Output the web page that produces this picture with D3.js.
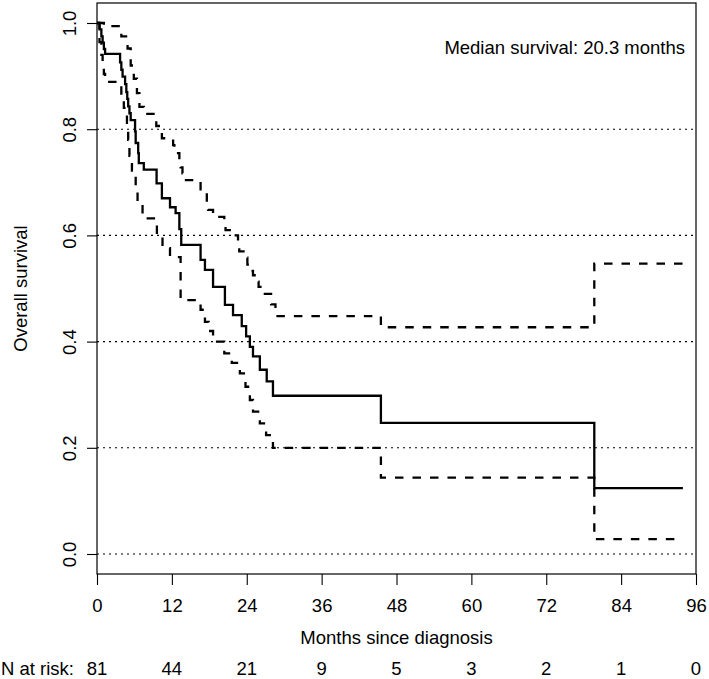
<!DOCTYPE html>
<html>
<head>
<meta charset="utf-8">
<script src="https://cdn.jsdelivr.net/npm/d3@7"></script>
<style>
  html, body { margin: 0; padding: 0; background: #fff; }
  svg text { font-family: "Liberation Sans", Arial, Helvetica, sans-serif; fill: #000; }
</style>
</head>
<body>
<svg id="chart" width="709" height="679"></svg>
<script>
// ---- Data ----
const kmTime = [0, 0.4, 0.7, 0.9, 1.1, 1.3, 3.7, 3.9, 4.1, 4.5, 4.7, 4.85, 5.0, 5.2, 5.4, 6.1, 6.2, 6.6, 6.7, 7.5, 9.55, 10.4, 11.7, 12.6, 13.2, 13.5, 16.6, 17.3, 18.6, 20.5, 21.8, 23.2, 23.9, 24.5, 25.0, 26.1, 27.2, 28.2, 45.5, 79.7, 93.9];
const kmSurv = [1, 0.988, 0.975, 0.963, 0.951, 0.942, 0.926, 0.912, 0.899, 0.885, 0.870, 0.857, 0.843, 0.830, 0.817, 0.796, 0.774, 0.755, 0.736, 0.724, 0.698, 0.670, 0.653, 0.642, 0.612, 0.582, 0.554, 0.535, 0.503, 0.469, 0.450, 0.429, 0.410, 0.390, 0.372, 0.347, 0.325, 0.298, 0.247, 0.124, 0.124];

const upperTime = [0, 1.1, 3.9, 4.9, 5.4, 5.9, 6.4, 6.8, 7.5, 9.5, 10.4, 12.2, 12.4, 13.2, 13.4, 13.7, 13.9, 16.6, 17.6, 17.8, 18.6, 20.4, 20.6, 21.8, 22.6, 22.8, 23.7, 24.1, 24.6, 25.0, 25.7, 25.9, 26.9, 27.9, 28.6, 45.5, 79.7, 93.9];
const upperVal  = [1, 0.994, 0.975, 0.952, 0.920, 0.895, 0.868, 0.842, 0.829, 0.806, 0.783, 0.770, 0.755, 0.740, 0.728, 0.717, 0.704, 0.683, 0.663, 0.648, 0.635, 0.620, 0.610, 0.600, 0.585, 0.570, 0.558, 0.545, 0.533, 0.525, 0.513, 0.503, 0.490, 0.470, 0.448, 0.427, 0.547, 0.547];

const lowerTime = [0, 0.4, 0.7, 0.9, 1.1, 1.3, 3.9, 4.3, 4.8, 5.0, 5.2, 5.6, 6.2, 6.5, 7.3, 9.6, 10.5, 11.7, 13.4, 16.6, 17.3, 17.9, 18.6, 20.4, 21.6, 22.9, 23.8, 24.5, 25.0, 26.1, 27.1, 28.2, 45.5, 79.7, 93.9];
const lowerVal  = [1, 0.964, 0.940, 0.922, 0.904, 0.889, 0.865, 0.840, 0.800, 0.780, 0.750, 0.722, 0.692, 0.662, 0.632, 0.600, 0.576, 0.559, 0.478, 0.460, 0.437, 0.420, 0.400, 0.378, 0.360, 0.340, 0.315, 0.290, 0.268, 0.246, 0.224, 0.200, 0.144, 0.028, 0.028];

const xTicks = [0, 12, 24, 36, 48, 60, 72, 84, 96];
const yTicks = [0.0, 0.2, 0.4, 0.6, 0.8, 1.0];
const gridLevels = [0.0, 0.2, 0.4, 0.6, 0.8];
const atRisk = [81, 44, 21, 9, 5, 3, 2, 1, 0];
const medianText = "Median survival: 20.3 months";

// ---- Layout ----
const svg = d3.select("#chart");
const box = { left: 97, right: 696, top: 3, bottom: 574 };
const x = d3.scaleLinear().domain([0, 96]).range([97, 696]);
const y = d3.scaleLinear().domain([0, 1]).range([554, 23]);
const FS = 18.5;

// grid lines (dotted)
svg.append("g").selectAll("line").data(gridLevels).join("line")
  .attr("x1", box.left).attr("x2", box.right)
  .attr("y1", d => y(d)).attr("y2", d => y(d))
  .attr("stroke", "#000").attr("stroke-width", 1.1)
  .attr("stroke-dasharray", "2,4");

// step curves
const pts = (t, v) => t.map((d, i) => [d, v[i]]);
const line = d3.line().x(d => x(d[0])).y(d => y(d[1])).curve(d3.curveStepAfter);

svg.append("path").datum(pts(upperTime, upperVal)).attr("d", line)
  .attr("fill", "none").attr("stroke", "#000").attr("stroke-width", 2.3)
  .attr("stroke-dasharray", "8.5,9");
svg.append("path").datum(pts(lowerTime, lowerVal)).attr("d", line)
  .attr("fill", "none").attr("stroke", "#000").attr("stroke-width", 2.3)
  .attr("stroke-dasharray", "8.5,9");
svg.append("path").datum(pts(kmTime, kmSurv)).attr("d", line)
  .attr("fill", "none").attr("stroke", "#000").attr("stroke-width", 2.3);

// box
svg.append("rect")
  .attr("x", box.left).attr("y", box.top)
  .attr("width", box.right - box.left).attr("height", box.bottom - box.top)
  .attr("fill", "none").attr("stroke", "#000").attr("stroke-width", 1.2);

// x axis
const xAxis = d3.axisBottom(x).tickValues(xTicks).tickSize(11).tickPadding(14)
  .tickFormat(d3.format("d"));
const gx = svg.append("g").attr("transform", `translate(0,${box.bottom})`).call(xAxis);
gx.select(".domain").remove();
gx.selectAll("line").attr("stroke", "#000").attr("stroke-width", 1.1);
gx.selectAll("text").attr("font-size", FS).attr("font-family", "Liberation Sans, Arial, sans-serif").attr("fill", "#000");

// y axis
const yAxis = d3.axisLeft(y).tickValues(yTicks).tickSize(10).tickPadding(0)
  .tickFormat(d3.format(".1f"));
const gy = svg.append("g").attr("transform", `translate(${box.left},0)`).call(yAxis);
gy.select(".domain").remove();
gy.selectAll("line").attr("stroke", "#000").attr("stroke-width", 1.1);
gy.selectAll("text")
  .attr("font-size", FS).attr("font-family", "Liberation Sans, Arial, sans-serif").attr("fill", "#000")
  .attr("x", null).attr("dy", null)
  .attr("text-anchor", "middle")
  .attr("transform", "translate(-28,0) rotate(-90)")
  .attr("dominant-baseline", "central");

// axis titles
svg.append("text")
  .attr("x", (box.left + box.right) / 2).attr("y", 637)
  .attr("text-anchor", "middle").attr("dominant-baseline", "central")
  .attr("font-size", FS).text("Months since diagnosis");

svg.append("text")
  .attr("transform", `translate(20,${(y(0) + y(1)) / 2}) rotate(-90)`)
  .attr("text-anchor", "middle").attr("dominant-baseline", "central")
  .attr("font-size", FS).text("Overall survival");

// median annotation
svg.append("text")
  .attr("x", 685).attr("y", 47)
  .attr("text-anchor", "end").attr("dominant-baseline", "central")
  .attr("font-size", FS).text(medianText);

// number at risk
svg.append("text")
  .attr("x", 74).attr("y", 668)
  .attr("text-anchor", "end").attr("dominant-baseline", "central")
  .attr("font-size", FS).text("N at risk:");
svg.append("g").selectAll("text").data(atRisk).join("text")
  .attr("x", (d, i) => x(xTicks[i])).attr("y", 668)
  .attr("text-anchor", "middle").attr("dominant-baseline", "central")
  .attr("font-size", FS).text(d => d);
</script>
</body>
</html>
